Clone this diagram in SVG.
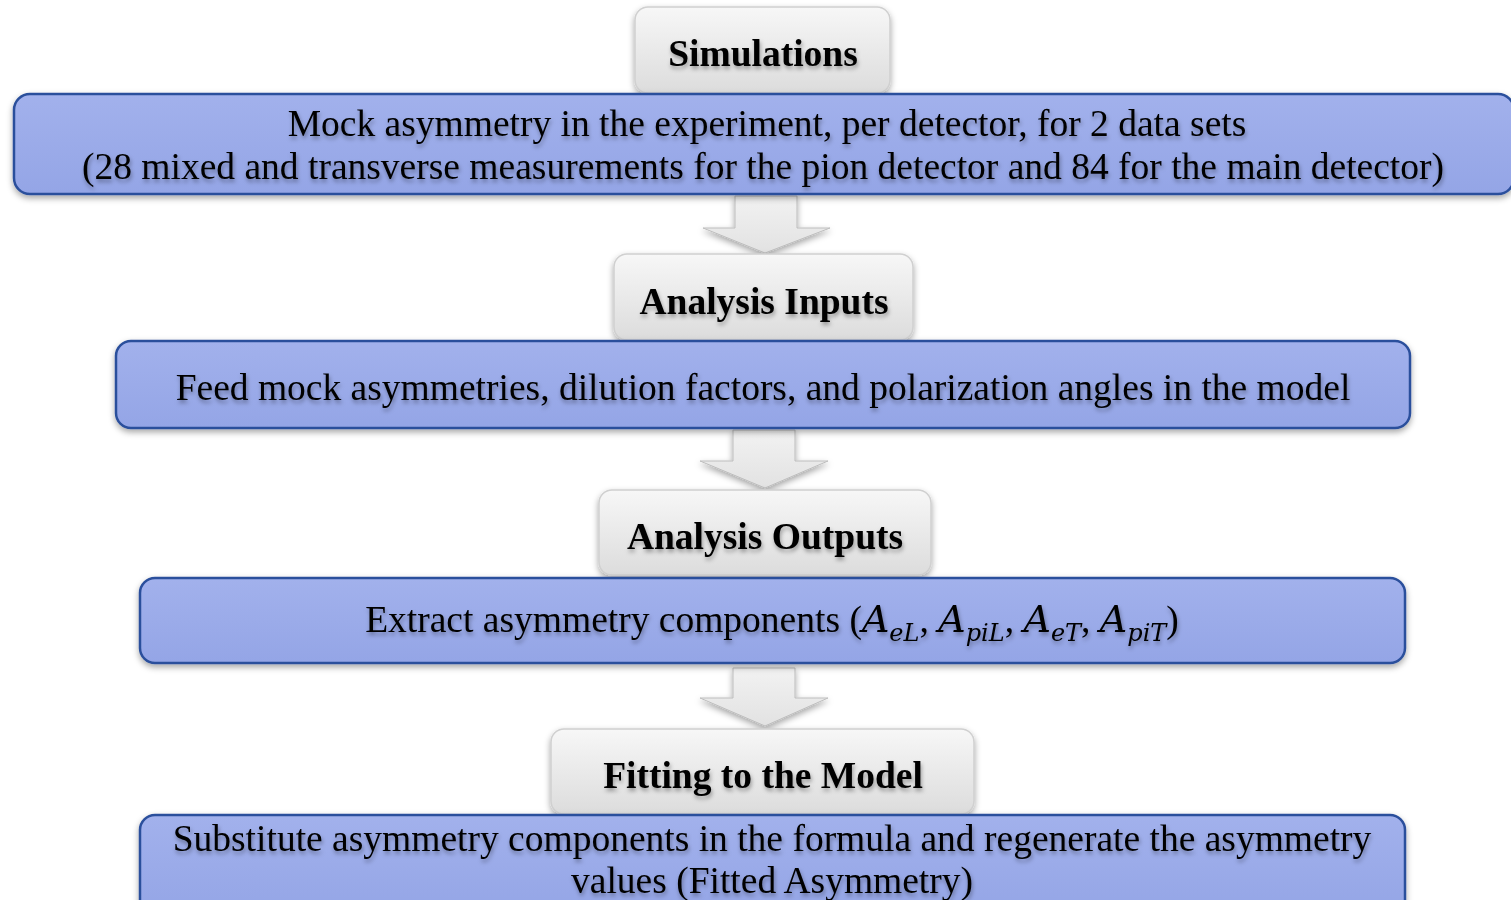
<svg xmlns="http://www.w3.org/2000/svg" width="1511" height="900" viewBox="0 0 1511 900">
<defs>
<linearGradient id="gray" x1="0" y1="0" x2="0" y2="1">
<stop offset="0" stop-color="#f7f7f7"/>
<stop offset="1" stop-color="#dcdcdc"/>
</linearGradient>
<linearGradient id="blue" x1="0" y1="0" x2="0" y2="1">
<stop offset="0" stop-color="#a2b1ec"/>
<stop offset="1" stop-color="#94a5e6"/>
</linearGradient>
<linearGradient id="arr" x1="0" y1="0" x2="0" y2="1">
<stop offset="0" stop-color="#f2f2f2"/>
<stop offset="1" stop-color="#e2e2e2"/>
</linearGradient>
<filter id="sh" x="-5%" y="-20%" width="110%" height="150%">
<feDropShadow dx="0" dy="3" stdDeviation="3" flood-color="#000" flood-opacity="0.35"/>
</filter>
<filter id="tsh" x="-5%" y="-30%" width="110%" height="170%">
<feDropShadow dx="1" dy="3" stdDeviation="2" flood-color="#000" flood-opacity="0.35"/>
</filter>
</defs>
<style>
.g{fill:url(#gray);stroke:#d0d0d0;stroke-width:1.5;filter:url(#sh)}
.b{fill:url(#blue);stroke:#2c4f9c;stroke-width:2.5;filter:url(#sh)}
.a{fill:url(#arr);stroke:#bdbdbd;stroke-width:1;filter:url(#sh)}
.h{font-family:"Liberation Serif",serif;font-weight:bold;font-size:37.5px;fill:#000;text-anchor:middle;filter:url(#tsh)}
.t{font-family:"Liberation Serif",serif;font-size:37.5px;fill:#000;text-anchor:middle;filter:url(#tsh)}
.m{font-family:"DejaVu Serif","Liberation Serif",serif;font-style:italic}
</style>
<rect width="1511" height="900" fill="#ffffff"/>
<g id="connectors">
<path class="a" d="M735,196 H797 V228 H830 L765,253 L703,228 H735 Z"/>
<path class="a" d="M733,430 H795 V461 H828 L765,488 L700,461 H733 Z"/>
<path class="a" d="M733,668 H795 V698 H828 L765,726 L700,698 H733 Z"/>
</g>
<g id="simulations">
<rect class="g" x="635" y="7" width="255" height="86" rx="13"/>
<text class="h" x="763" y="66">Simulations</text>
</g>
<g id="mock">
<rect class="b" x="14" y="94" width="1500" height="100" rx="16"/>
<text class="t" x="767" y="136">Mock asymmetry in the experiment, per detector, for 2 data sets</text>
<text class="t" x="763" y="179">(28 mixed and transverse measurements for the pion detector and 84 for the main detector)</text>
</g>
<g id="analysis-inputs">
<rect class="g" x="614" y="254" width="299" height="86" rx="13"/>
<text class="h" x="764" y="314">Analysis Inputs</text>
</g>
<g id="feed">
<rect class="b" x="116" y="341" width="1294" height="87" rx="15"/>
<text class="t" x="763" y="400">Feed mock asymmetries, dilution factors, and polarization angles in the model</text>
</g>
<g id="analysis-outputs">
<rect class="g" x="599" y="490" width="332" height="85" rx="13"/>
<text class="h" x="765" y="549">Analysis Outputs</text>
</g>
<g id="extract">
<rect class="b" x="140" y="578" width="1265" height="85" rx="15"/>
<text class="t" x="772" y="632">Extract asymmetry components (<tspan class="m" font-size="38">A</tspan><tspan class="m" font-size="24" dy="9">eL</tspan><tspan dy="-9">, </tspan><tspan class="m" font-size="38">A</tspan><tspan class="m" font-size="24" dy="9">piL</tspan><tspan dy="-9">, </tspan><tspan class="m" font-size="38">A</tspan><tspan class="m" font-size="24" dy="9">eT</tspan><tspan dy="-9">, </tspan><tspan class="m" font-size="38">A</tspan><tspan class="m" font-size="24" dy="9">piT</tspan><tspan dy="-9">)</tspan></text>
</g>
<g id="fitting">
<rect class="g" x="551" y="729" width="423" height="85" rx="13"/>
<text class="h" x="763" y="788">Fitting to the Model</text>
</g>
<g id="substitute">
<rect class="b" x="140" y="815" width="1265" height="100" rx="15"/>
<text class="t" x="772" y="851">Substitute asymmetry components in the formula and regenerate the asymmetry</text>
<text class="t" x="772" y="893">values (Fitted Asymmetry)</text>
</g>
</svg>
